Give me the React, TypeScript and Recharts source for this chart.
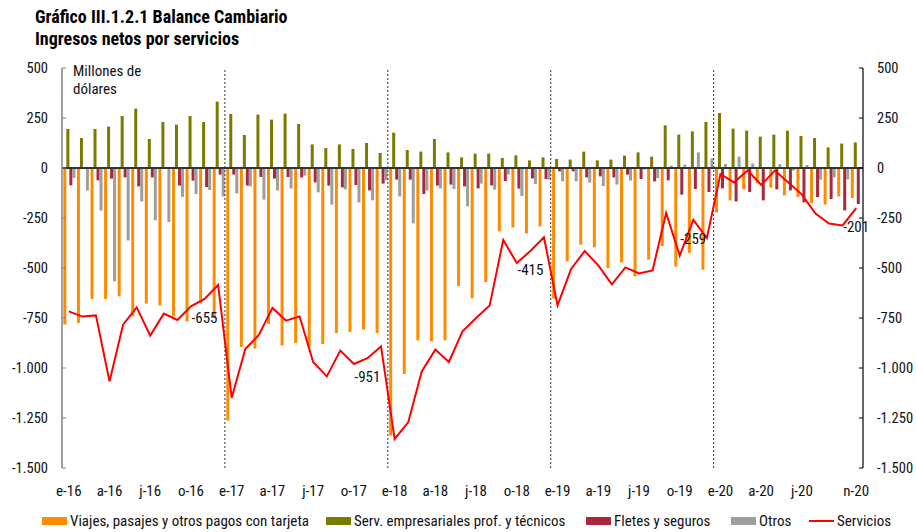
import React from "react";
import { ComposedChart, Bar, Line, XAxis, YAxis, ReferenceLine, LabelList } from "recharts";

// ─── Data (millones de dólares) ──────────────────────────────────────────────
const months = [
  "ene-16", "feb-16", "mar-16", "abr-16", "may-16", "jun-16", "jul-16", "ago-16", "sep-16", "oct-16", "nov-16", "dic-16",
  "ene-17", "feb-17", "mar-17", "abr-17", "may-17", "jun-17", "jul-17", "ago-17", "sep-17", "oct-17", "nov-17", "dic-17",
  "ene-18", "feb-18", "mar-18", "abr-18", "may-18", "jun-18", "jul-18", "ago-18", "sep-18", "oct-18", "nov-18", "dic-18",
  "ene-19", "feb-19", "mar-19", "abr-19", "may-19", "jun-19", "jul-19", "ago-19", "sep-19", "oct-19", "nov-19", "dic-19",
  "ene-20", "feb-20", "mar-20", "abr-20", "may-20", "jun-20", "jul-20", "ago-20", "sep-20", "oct-20", "nov-20",
];

const viajes = [
  -783, -775, -655, -655, -642, -742, -678, -688, -742, -767, -675, -750,
  -1263, -895, -902, -780, -887, -875, -894, -880, -825, -820, -808, -825,
  -1338, -1030, -862, -867, -862, -590, -652, -570, -317, -298, -327, -292,
  -652, -467, -383, -397, -500, -472, -542, -458, -390, -493, -425, -508,
  -222, -162, -107, -75, -98, -137, -145, -175, -183, -142, -150,
];

const servEmpresariales = [
  195, 150, 195, 207, 260, 297, 145, 230, 217, 260, 230, 332,
  270, 165, 267, 242, 272, 220, 118, 100, 118, 95, 125, 75,
  177, 90, 82, 145, 78, 53, 72, 72, 50, 63, 38, 53,
  45, 42, 82, 38, 42, 62, 78, 57, 213, 167, 183, 230,
  275, 197, 187, 157, 167, 187, 160, 150, 103, 122, 128,
];

const fletes = [
  -87, -3, -62, -53, -47, -92, -47, -3, -88, -63, -95, -33,
  -33, -88, -45, -53, -45, -47, -72, -88, -97, -85, -112, -78,
  -58, -58, -130, -88, -83, -92, -102, -87, -65, -103, -52, -55,
  -17, -17, -47, -42, -47, -33, -55, -67, -62, -133, -105, -120,
  -102, -167, -120, -162, -107, -112, -172, -145, -155, -212, -180,
];

const otros = [
  -50, -113, -213, -567, -362, -167, -262, -270, -145, -130, -110, -142,
  -127, -92, -158, -112, -103, -38, -122, -183, -107, -172, -162, -62,
  -142, -277, -113, -102, -105, -192, -78, -108, -33, -140, -80, -58,
  -67, -67, -73, -90, -83, -63, -8, -50, 12, 17, 78, 48,
  20, 57, 22, -5, 20, -13, 15, -58, -47, -57, 0,
];

const servicios = [
  -717, -743, -737, -1067, -783, -697, -838, -728, -760, -692, -655, -585,
  -1150, -905, -835, -700, -763, -742, -970, -1042, -913, -980, -951, -892,
  -1355, -1272, -1017, -908, -970, -817, -750, -688, -360, -475, -415, -347,
  -687, -505, -415, -487, -582, -497, -527, -512, -225, -438, -259, -350,
  -30, -72, -12, -85, -13, -72, -133, -228, -278, -287, -201,
];

const tickMonths = [
  "ene-16", "abr-16", "jul-16", "oct-16", "ene-17", "abr-17", "jul-17", "oct-17",
  "ene-18", "abr-18", "jul-18", "oct-18", "ene-19", "abr-19", "jul-19", "oct-19",
  "ene-20", "abr-20", "jul-20", "nov-20",
];
const yearStarts = ["ene-17", "ene-18", "ene-19", "ene-20"];
const yTicks = [500, 250, 0, -250, -500, -750, -1000, -1250, -1500];

const data = months.map((m, i) => ({
  m,
  viajes: viajes[i],
  serv: servEmpresariales[i],
  fletes: fletes[i],
  otros: otros[i],
  servicios: servicios[i],
}));

// ─── Styles ──────────────────────────────────────────────────────────────────
const FONT = "Roboto, 'Liberation Sans Narrow', sans-serif";
const C = {
  viajes: "#FF8C00",
  serv: "#7A7A00",
  fletes: "#A8283C",
  otros: "#9E9E9E",
  servicios: "#FF0000",
};

const fmtNum = (v: number) => {
  const s = String(Math.abs(v)).replace(/\B(?=(\d{3})+(?!\d))/g, ".");
  return v < 0 ? "-" + s : s;
};
const fmtMonth = (v: string) => (tickMonths.includes(v) ? v[0] + v.slice(3) : "");

function NovLabel({ x, y, index, value }: any) {
  if (!months[index]?.startsWith("nov")) return null;
  return (
    <text x={x} y={y + 19} textAnchor="middle" dominantBaseline="central"
      fontSize={15} fill="#111" fontFamily={FONT} style={{ fontStretch: "condensed" }}>
      {value}
    </text>
  );
}

const legendItems = [
  { label: "Viajes, pasajes y otros pagos con tarjeta", color: C.viajes, left: 42, line: false },
  { label: "Serv. empresariales prof. y técnicos", color: C.serv, left: 326, line: false },
  { label: "Fletes y seguros", color: C.fletes, left: 586, line: false },
  { label: "Otros", color: C.otros, left: 731, line: false },
  { label: "Servicios", color: C.servicios, left: 809, line: true },
];

export default function App() {
  const tick = { fontSize: 14.5, fill: "#111", fontFamily: FONT, style: { fontStretch: "condensed" } };
  return (
    <div style={{ position: "absolute", left: 0, top: 0, width: 916, height: 532, background: "#fff", fontFamily: FONT, fontStretch: "condensed" }}>
      <div style={{ position: "absolute", left: 35, top: 6, fontSize: 18, fontWeight: 700, lineHeight: "22px", color: "#000" }}>
        Gráfico III.1.2.1 Balance Cambiario<br />Ingresos netos por servicios
      </div>
      <div style={{ position: "absolute", left: 73, top: 62, fontSize: 15, lineHeight: "18px", color: "#111" }}>
        Millones de<br />dólares
      </div>
      <ComposedChart width={916} height={532} data={data} barGap={0} barCategoryGap="10%"
        margin={{ top: 68, right: 0, left: 0, bottom: 34 }}>
        <XAxis dataKey="m" interval={0} tickFormatter={fmtMonth} axisLine={false} tickLine={false}
          height={30} tickMargin={11} tick={{ ...tick, fontSize: 15 }} />
        <YAxis yAxisId="left" width={62} domain={[-1500, 500]} ticks={yTicks} tickFormatter={fmtNum}
          axisLine={{ stroke: "#808080", strokeWidth: 1.5 }} tickLine={{ stroke: "#808080" }}
          tickSize={-4} tickMargin={18} tick={tick} />
        <YAxis yAxisId="right" orientation="right" width={53} domain={[-1500, 500]} ticks={yTicks} tickFormatter={fmtNum}
          axisLine={{ stroke: "#000", strokeWidth: 1.2 }} tickLine={{ stroke: "#000" }}
          tickSize={-4} tickMargin={18} tick={tick} />
        {yearStarts.map((m) => (
          <ReferenceLine key={m} yAxisId="left" x={m} position="start" stroke="#333" strokeDasharray="2 2" strokeWidth={1} />
        ))}
        <Bar yAxisId="left" dataKey="viajes" fill={C.viajes} isAnimationActive={false} />
        <Bar yAxisId="left" dataKey="serv" fill={C.serv} isAnimationActive={false} />
        <Bar yAxisId="left" dataKey="fletes" fill={C.fletes} isAnimationActive={false} />
        <Bar yAxisId="left" dataKey="otros" fill={C.otros} isAnimationActive={false} />
        <ReferenceLine yAxisId="left" y={0} stroke="#333" strokeWidth={1.8} />
        <Line yAxisId="right" dataKey="servicios" stroke={C.servicios} strokeWidth={2} dot={false} isAnimationActive={false}>
          <LabelList dataKey="servicios" content={NovLabel} />
        </Line>
      </ComposedChart>
      {legendItems.map((it) => (
        <div key={it.label} style={{ position: "absolute", left: it.left, top: 512, height: 18, display: "flex", alignItems: "center", fontSize: 15, color: "#111", whiteSpace: "nowrap" }}>
          {it.line
            ? <span style={{ display: "inline-block", width: 25, height: 2, background: it.color, marginRight: 3 }} />
            : <span style={{ display: "inline-block", width: 25, height: 8, background: it.color, marginRight: 3 }} />}
          {it.label}
        </div>
      ))}
    </div>
  );
}
